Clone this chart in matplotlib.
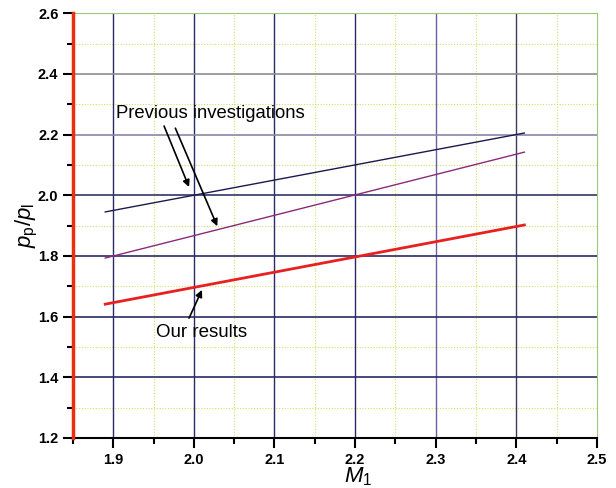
import matplotlib.pyplot as plt
import numpy as np
from matplotlib.ticker import MultipleLocator

plt.rcParams['font.family'] = ['Liberation Sans', 'DejaVu Sans']
plt.rcParams['mathtext.fontset'] = 'custom'
plt.rcParams['mathtext.rm'] = 'Liberation Sans'
plt.rcParams['mathtext.it'] = 'Liberation Sans:italic'

# data
m1 = [1.89, 2.41]
prev_a = [1.945, 2.205]
prev_b = [1.793, 2.142]
ours = [1.641, 1.902]

fig = plt.figure(figsize=(6.16, 4.88), dpi=100)
ax = fig.add_axes([0.1185, 0.1025, 0.8505, 0.8705])

ax.set_xlim(1.85, 2.5)
ax.set_ylim(1.2, 2.6)

# minor dotted grid
for x in np.arange(1.95, 2.5, 0.1):
    ax.axvline(x, color='#d6dc6a', lw=0.8, ls=(0, (1, 1.5)), zorder=1)
for y in np.arange(1.3, 2.6, 0.2):
    ax.axhline(y, color='#d6dc6a', lw=0.8, ls=(0, (1, 1.5)), zorder=1)

# major grid
vcols = ['#2a2a66', '#2a2a66', '#2a2a66', '#2a2a66', '#6a62a0', '#3a3a5e']
for x, c in zip(np.arange(1.9, 2.45, 0.1), vcols):
    ax.axvline(x, color=c, lw=1.0, zorder=1)
hcols = ['#2a2a66', '#2a2a66', '#2a2a66', '#34346a', '#8a86aa', '#8c8c8c']
for y, c in zip(np.arange(1.4, 2.45, 0.2), hcols):
    ax.axhline(y, color=c, lw=1.2, zorder=1)

ax.plot(m1, prev_a, color='#1a1a50', lw=1.0, zorder=3)
ax.plot(m1, prev_b, color='#8a2a7a', lw=1.0, zorder=3)
ax.plot(m1, ours, color='#e82020', lw=2.0, zorder=3)

ap = dict(arrowstyle='-|>', color='black', lw=1.2, mutation_scale=10,
          shrinkA=0, shrinkB=0)
ax.annotate('', xy=(1.994, 2.027), xytext=(1.963, 2.228), arrowprops=ap)
ax.annotate('', xy=(2.029, 1.898), xytext=(1.977, 2.221), arrowprops=ap)
ax.annotate('', xy=(2.010, 1.688), xytext=(1.994, 1.595), arrowprops=ap)
ax.text(1.903, 2.271, 'Previous investigations', fontsize=13.3, va='center', ha='left')
ax.text(1.953, 1.549, 'Our results', fontsize=13.5, va='center', ha='left')

ax.spines['left'].set_color('#e83010')
ax.spines['left'].set_linewidth(2.5)
ax.spines['top'].set_color('#9cc870')
ax.spines['right'].set_color('#9cc870')
ax.spines['bottom'].set_linewidth(1.5)
ax.spines['left'].set_zorder(4)

ax.xaxis.set_minor_locator(MultipleLocator(0.05))
ax.yaxis.set_minor_locator(MultipleLocator(0.1))
ax.tick_params(which='major', direction='out', length=7, width=1.5, labelsize=10.5)
ax.tick_params(which='minor', direction='out', length=4, width=1.5)
ax.tick_params(axis='x', top=False)
ax.tick_params(axis='y', right=False)
xt = [1.9, 2.0, 2.1, 2.2, 2.3, 2.4, 2.5]
ax.set_xticks(xt)
ax.set_xticklabels(['%.1f' % v for v in xt], fontweight='bold')
yt = [1.2, 1.4, 1.6, 1.8, 2.0, 2.2, 2.4, 2.6]
ax.set_yticks(yt)
ax.set_yticklabels(['%.1f' % v for v in yt], fontweight='bold')

ax.set_xlabel('$M_1$', fontsize=16, va='center')
ax.xaxis.set_label_coords(0.545, -0.091)
ax.set_ylabel('$p_\\mathrm{p}/p_\\mathrm{l}$', fontsize=16, va='center')
ax.yaxis.set_label_coords(-0.088, 0.5)

fig.savefig('out.png', dpi=100)
